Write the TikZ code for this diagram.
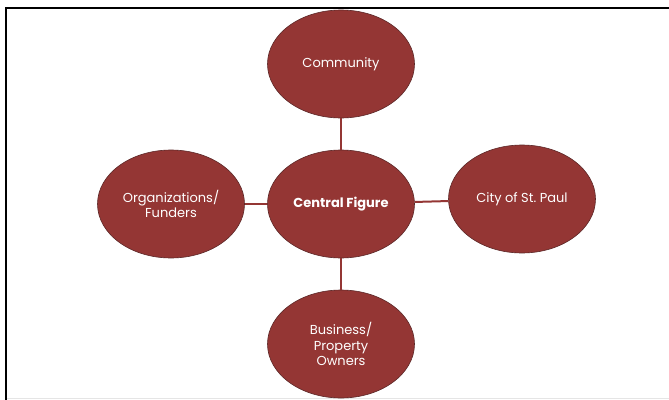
\documentclass[tikz,border=0pt]{standalone}
\usepackage{fontspec}
\setmainfont{Poppins}
\usetikzlibrary{shapes.geometric}

\definecolor{brick}{RGB}{148,54,52}
\definecolor{brickedge}{RGB}{92,40,40}

\tikzset{
    bubble/.style={ellipse, draw=brickedge, line width=0.6pt, fill=brick, text=white,
        minimum width=147pt, minimum height=108pt, inner sep=0pt, align=center,
        font=\fontsize{13}{15.5}\selectfont},
    link/.style={draw=brick, line width=2pt}
}

\begin{document}
\begin{tikzpicture}[x=1pt, y=-1pt]
    \useasboundingbox (0,0) rectangle (669,399);
    \clip (0,0) rectangle (669,399);

    % Frame
    \draw[line width=2pt] (6,400) -- (6,8) -- (670,8);
    \draw[black!10, line width=1pt] (7,398) -- (669,398);

    % Centre
    \node[bubble, font=\bfseries\fontsize{13}{15.5}\selectfont] (C) at (341,204) {Central Figure};

    % Outer circles
    \node[bubble] (N) at (341,64) {Community};
    \node[bubble] (W) at (171,204) {Organizations/\\Funders};
    \node[bubble] (E) at (522,199) {City of St.\ Paul};
    \node[bubble] (S) at (341,344) {Business/\\Property\\Owners};

    % Connect centre to outer circles
    \foreach \n in {N,W,E,S}
        \draw[link] (C) -- (\n);
\end{tikzpicture}
\end{document}
